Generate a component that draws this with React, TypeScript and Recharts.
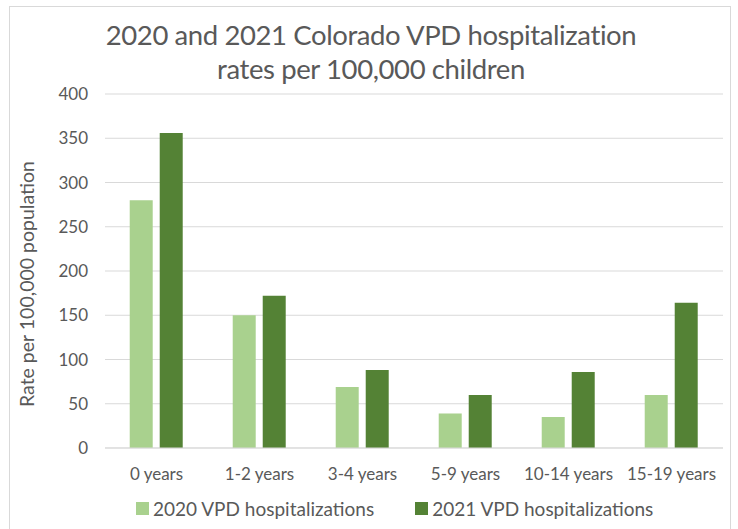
import React from 'react';
import {
    BarChart,
    Bar,
    XAxis,
    YAxis,
    CartesianGrid,
    Legend,
} from 'recharts';

const categories = ['0 years', '1-2 years', '3-4 years', '5-9 years', '10-14 years', '15-19 years'];
const rates2020 = [280, 150, 69, 39, 35, 60];
const rates2021 = [356, 172, 88, 60, 86, 164];
const yTicks = [0, 50, 100, 150, 200, 250, 300, 350, 400];

const LIGHT = '#A9D18E';
const DARK = '#548235';
const TEXT = '#595959';
const FONT = 'Lato, "Open Sans", sans-serif';

const data = categories.map((name, i) => ({
    name,
    y2020: rates2020[i],
    y2021: rates2021[i],
}));

const renderLegend = () => (
    <div style={{ display: 'flex', fontFamily: FONT, fontSize: 19, color: TEXT, whiteSpace: 'nowrap' }}>
        <span style={{ display: 'flex', alignItems: 'center', marginRight: 41 }}>
            <span style={{ width: 13, height: 13, background: LIGHT, marginRight: 4 }} />
            2020 VPD hospitalizations
        </span>
        <span style={{ display: 'flex', alignItems: 'center' }}>
            <span style={{ width: 13, height: 13, background: DARK, marginRight: 4 }} />
            2021 VPD hospitalizations
        </span>
    </div>
);

export default function App() {
    return (
        <div style={{ position: 'absolute', left: 0, top: 0, width: 738, height: 529, background: '#fff', overflow: 'hidden' }}>
            <div style={{ position: 'absolute', left: 9, top: 6, width: 722, height: 540, border: '1px solid #d9d9d9', boxSizing: 'border-box' }} />
            <div
                style={{
                    position: 'absolute',
                    left: 0,
                    top: 18,
                    width: 738,
                    fontFamily: FONT,
                    fontSize: 27.5,
                    letterSpacing: -0.4,
                    lineHeight: '34px',
                    color: TEXT,
                }}
            >
                <div style={{ width: 560, marginLeft: 91, textAlign: 'center' }}>
                    2020 and 2021 Colorado VPD hospitalization
                    <br />
                    rates per 100,000 children
                </div>
            </div>
            <BarChart
                width={738}
                height={529}
                data={data}
                margin={{ top: 94, right: 15, bottom: 28, left: 0 }}
                barCategoryGap="24%"
                barGap={7}
                style={{ position: 'absolute', left: 0, top: 0 }}
            >
                <CartesianGrid vertical={false} stroke="#d9d9d9" />
                <XAxis
                    dataKey="name"
                    height={30}
                    axisLine={{ stroke: '#d9d9d9' }}
                    tickLine={false}
                    tickMargin={14}
                    tick={{ fill: TEXT, fontSize: 17, fontFamily: FONT }}
                    interval={0}
                />
                <YAxis
                    width={105}
                    domain={[0, 400]}
                    ticks={yTicks}
                    axisLine={false}
                    tickLine={false}
                    tickMargin={11}
                    tick={{ fill: TEXT, fontSize: 17, fontFamily: FONT }}
                    label={{
                        value: 'Rate per 100,000 population',
                        angle: -90,
                        position: 'insideLeft',
                        dx: 22,
                        dy: 136,
                        style: { fill: TEXT, fontSize: 19.5, fontFamily: FONT, textAnchor: 'start' },
                    }}
                />
                <Legend
                    content={renderLegend}
                    wrapperStyle={{ position: 'absolute', left: 136, top: 497, width: 'auto' }}
                />
                <Bar dataKey="y2020" name="2020 VPD hospitalizations" fill={LIGHT} isAnimationActive={false} />
                <Bar dataKey="y2021" name="2021 VPD hospitalizations" fill={DARK} isAnimationActive={false} />
            </BarChart>
        </div>
    );
}
